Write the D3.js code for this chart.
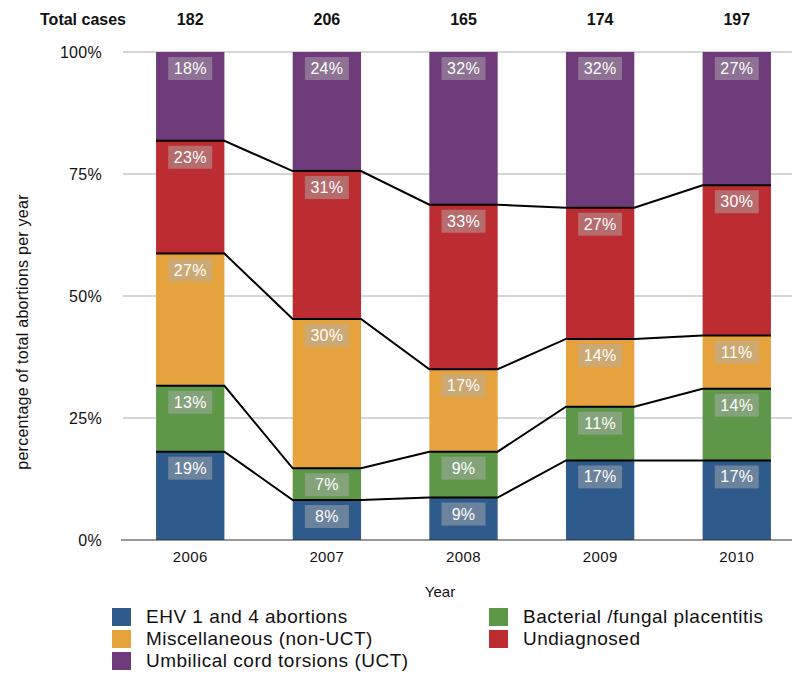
<!DOCTYPE html>
<html>
<head>
<meta charset="utf-8">
<script src="https://cdn.jsdelivr.net/npm/d3@7"></script>
<style>
  html, body { margin: 0; padding: 0; background: #fff; }
  svg { display: block; font-family: "Liberation Sans", Arial, Helvetica, sans-serif; }
</style>
</head>
<body>
<svg id="chart" width="792" height="675"></svg>
<script>
// ---- data ----
const years = ["2006", "2007", "2008", "2009", "2010"];
const totalCases = [182, 206, 165, 174, 197];
const seriesNames = ["EHV 1 and 4 abortions", "Bacterial /fungal placentitis", "Miscellaneous (non-UCT)", "Undiagnosed", "Umbilical cord torsions (UCT)"];
const seriesKeys = ["ehv", "bact", "misc", "undiag", "uct"];
const ehv    = [18.1, 8.2, 8.7, 16.3, 16.3];
const bact   = [13.5, 6.5, 9.4, 11.0, 14.7];
const misc   = [27.1, 30.6, 16.9, 13.9, 10.9];
const undiag = [23.1, 30.3, 33.7, 26.9, 30.8];
const uct    = [18.2, 24.4, 31.3, 31.9, 27.3];
// labels as printed on the chart
const ehvLabels    = ["19%", "8%", "9%", "17%", "17%"];
const bactLabels   = ["13%", "7%", "9%", "11%", "14%"];
const miscLabels   = ["27%", "30%", "17%", "14%", "11%"];
const undiagLabels = ["23%", "31%", "33%", "27%", "30%"];
const uctLabels    = ["18%", "24%", "32%", "32%", "27%"];
const yTicks = [0, 0.25, 0.5, 0.75, 1];
const yTickLabels = ["0%", "25%", "50%", "75%", "100%"];
const colors = ["#2E5A8C", "#5D9849", "#E6A23D", "#BC2C31", "#6E3A7A"];

const seriesValues = [ehv, bact, misc, undiag, uct];
const seriesLabels = [ehvLabels, bactLabels, miscLabels, undiagLabels, uctLabels];

const table = years.map((y, i) => {
  const row = { year: y };
  seriesKeys.forEach((k, s) => row[k] = seriesValues[s][i]);
  return row;
});

const stack = d3.stack().keys(seriesKeys).offset(d3.stackOffsetExpand);
const stacked = stack(table);

// ---- layout ----
const svg = d3.select("#chart");
const x = d3.scaleBand().domain(years).range([123, 804]).paddingInner(0.5).paddingOuter(0.242);
const yScale = d3.scaleLinear().domain([0, 1]).range([540, 52]);
const color = d3.scaleOrdinal().domain(seriesKeys).range(colors);

// gridlines
svg.append("g").selectAll("line").data(yTicks.filter(t => t > 0)).join("line")
  .attr("x1", 123).attr("x2", 792)
  .attr("y1", d => yScale(d)).attr("y2", d => yScale(d))
  .attr("stroke", "#ababab").attr("stroke-width", 1.2);

// y axis
const yAxis = d3.axisLeft(yScale).tickValues(yTicks)
  .tickFormat((d, i) => yTickLabels[i]).tickSize(0).tickPadding(21);
const gy = svg.append("g").attr("transform", "translate(123,0)").call(yAxis);
gy.select(".domain").remove();
gy.selectAll("text").attr("font-size", 16).attr("fill", "#111")
  .attr("font-family", "Liberation Sans, Arial, sans-serif").attr("letter-spacing", 0.3);

// bars
const layers = svg.append("g").selectAll("g").data(stacked).join("g")
  .attr("fill", d => color(d.key));
layers.selectAll("rect").data(d => d).join("rect")
  .attr("x", d => x(d.data.year))
  .attr("width", x.bandwidth())
  .attr("y", d => yScale(d[1]))
  .attr("height", d => yScale(d[0]) - yScale(d[1]));

// baseline
svg.append("line").attr("x1", 121).attr("x2", 792)
  .attr("y1", yScale(0)).attr("y2", yScale(0))
  .attr("stroke", "#333").attr("stroke-width", 1.2);

// connecting lines at segment boundaries
const lineGen = d3.line();
stacked.slice(0, seriesKeys.length - 1).forEach(layer => {
  const pts = [];
  layer.forEach(d => {
    pts.push([x(d.data.year), yScale(d[1])]);
    pts.push([x(d.data.year) + x.bandwidth(), yScale(d[1])]);
  });
  svg.append("path").attr("d", lineGen(pts))
    .attr("fill", "none").attr("stroke", "#000").attr("stroke-width", 2);
});

// value labels
const lbl = svg.append("g");
stacked.forEach((layer, s) => {
  layer.forEach((d, i) => {
    const cx = x(d.data.year) + x.bandwidth() / 2;
    const top = yScale(d[1]);
    const g = lbl.append("g");
    g.append("rect").attr("x", cx - 22).attr("y", top + 5)
      .attr("width", 44).attr("height", 23)
      .attr("fill", "rgb(175,175,175)").attr("fill-opacity", 0.48);
    g.append("text").attr("x", cx).attr("y", top + 22)
      .attr("text-anchor", "middle").attr("font-size", 16)
      .attr("letter-spacing", 0.3)
      .attr("fill", "#fff").text(seriesLabels[s][i]);
  });
});

// x axis labels
const xAxis = d3.axisBottom(x).tickSize(0).tickPadding(11);
const gx = svg.append("g").attr("transform", "translate(0,540)").call(xAxis);
gx.select(".domain").remove();
gx.selectAll("text").attr("font-size", 15).attr("fill", "#111")
  .attr("font-family", "Liberation Sans, Arial, sans-serif").attr("letter-spacing", 0.4);

// total cases row
svg.append("text").attr("x", 126).attr("y", 25).attr("text-anchor", "end")
  .attr("font-size", 16).attr("font-weight", "bold").attr("fill", "#111")
  .text("Total cases");
svg.append("g").selectAll("text").data(years).join("text")
  .attr("x", d => x(d) + x.bandwidth() / 2).attr("y", 25)
  .attr("text-anchor", "middle").attr("font-size", 16).attr("font-weight", "bold")
  .attr("fill", "#111")
  .text((d, i) => totalCases[i]);

// axis titles
svg.append("text").attr("transform", "translate(28,332) rotate(-90)")
  .attr("text-anchor", "middle").attr("font-size", 16).attr("letter-spacing", 0.25)
  .attr("fill", "#111").text("percentage of total abortions per year");
svg.append("text").attr("x", 440).attr("y", 597).attr("text-anchor", "middle")
  .attr("font-size", 15).attr("fill", "#111").text("Year");

// legend: EHV, Misc, UCT in first column; Bact, Undiag in second
const legendIdx = [0, 2, 4, 1, 3];
const slots = [[112, 608], [112, 630], [112, 652], [489, 608], [489, 630]];
const leg = svg.append("g");
legendIdx.forEach((s, j) => {
  const [lx, ly] = slots[j];
  leg.append("rect").attr("x", lx).attr("y", ly).attr("width", 19).attr("height", 18)
    .attr("fill", colors[s]);
  leg.append("text").attr("x", lx + 34).attr("y", ly + 15)
    .attr("font-size", 19).attr("letter-spacing", 0.5).attr("fill", "#111")
    .text(seriesNames[s]);
});
</script>
</body>
</html>
